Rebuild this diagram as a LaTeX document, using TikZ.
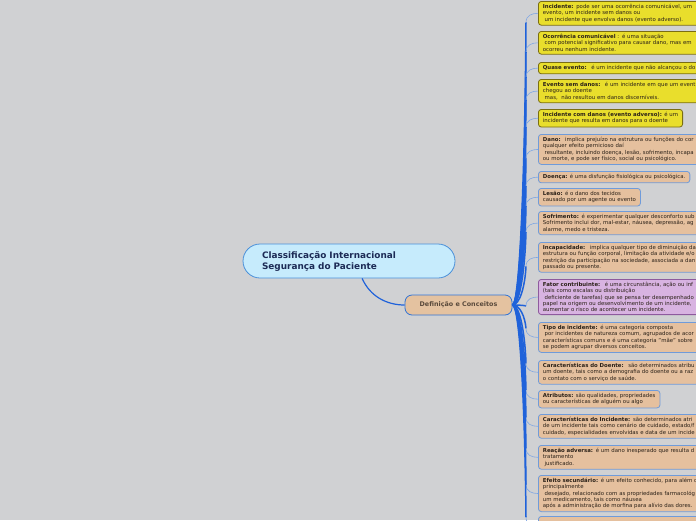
\documentclass[tikz,border=0pt]{standalone}
\usepackage{fontspec}
\setmainfont{DejaVu Sans}
\usepackage{xcolor}
\definecolor{canvas}{HTML}{D0D1D3}
\definecolor{cipfill}{HTML}{C6EBFC}
\definecolor{cipedge}{HTML}{4A90D9}
\definecolor{ciptext}{HTML}{1C2A55}
\definecolor{deffill}{HTML}{E4C2A0}
\definecolor{defedge}{HTML}{2F73D6}
\definecolor{deftext}{HTML}{5A4A3C}
\definecolor{amarelofill}{HTML}{E9DE2C}
\definecolor{amareloedge}{HTML}{7A6E12}
\definecolor{bejefill}{HTML}{E5C09E}
\definecolor{bejeedge}{HTML}{6F9BDA}
\definecolor{lilasfill}{HTML}{D8B3E1}
\definecolor{lilasedge}{HTML}{8E5A9E}
\definecolor{leaftext}{HTML}{2B2118}
\definecolor{trunkblue}{HTML}{1F62DA}
\definecolor{twigblue}{HTML}{7FA6E3}
\usepackage{tikz}
\usetikzlibrary{calc}

\begin{document}
\begin{tikzpicture}[x=1pt, y=-1pt,
  leaf/.style={draw=#1edge, fill=#1fill, rounded corners=3pt, line width=0.8pt,
    anchor=north west, align=left, font=\fontsize{5.4}{6.2}\selectfont,
    text=leaftext, inner xsep=4.5pt, inner ysep=3pt},
  wide/.style={text width=200pt},
  trunk/.style={draw=trunkblue, line width=1.5pt},
  twig/.style={draw=twigblue, line width=0.6pt}
]
  \useasboundingbox (0,0) rectangle (696,520);
  \fill[canvas] (0,0) rectangle (696,520);
  \clip (0,0) rectangle (696,520);

  % centre and main branch
  \node[draw=cipedge, fill=cipfill, rounded corners=17pt, line width=0.8pt,
    minimum height=34pt, text width=174pt, inner xsep=19pt, align=left,
    font=\fontsize{8.9}{11}\selectfont\bfseries, text=ciptext] (cip) at (349,261)
    {Classificação Internacional\\Segurança do Paciente};
  \node[draw=defedge, fill=deffill, rounded corners=7pt, line width=0.8pt,
    minimum width=107pt, minimum height=20pt,
    font=\fontsize{6.4}{7}\selectfont\bfseries, text=deftext] (defc) at (458.5,305)
    {Definição e Conceitos};

  % leaves above
  \node[leaf=amarelo, wide] (incidente) at (538,1)
    {\textbf{Incidente:} pode ser uma ocorrência comunicável, um\\evento, um incidente sem danos ou\\~um incidente que envolva danos (evento adverso).};
  \node[leaf=amarelo, wide] (ocorrencia) at (538,31)
    {\textbf{Ocorrência comunicável} : é uma situação\\~com potencial significativo para causar dano, mas em\\ocorreu nenhum incidente.};
  \node[leaf=amarelo, wide] (quase) at (538,62)
    {\textbf{Quase evento:}~ é um incidente que não alcançou o do};
  \node[leaf=amarelo, wide] (semdanos) at (538,79)
    {\textbf{Evento sem danos:}~ é um incidente em que um event\\chegou ao doente\\~mas,~ não resultou em danos discerníveis.};
  \node[leaf=amarelo] (comdanos) at (538,109)
    {\textbf{Incidente com danos (evento adverso):} é um\\incidente que resulta em danos para o doente};
  \node[leaf=beje, wide] (dano) at (538,134)
    {\textbf{Dano:}~ implica prejuízo na estrutura ou funções do cor\\qualquer efeito pernicioso daí\\~resultante, incluindo doença, lesão, sofrimento, incapa\\ou morte, e pode ser físico, social ou psicológico.};
  \node[leaf=beje] (doenca) at (538,171)
    {\textbf{Doença:} é uma disfunção fisiológica ou psicológica.};
  \node[leaf=beje] (lesao) at (538,188)
    {\textbf{Lesão:} é o dano dos tecidos\\causado por um agente ou evento};
  \node[leaf=beje, wide] (sofrimento) at (538,211)
    {\textbf{Sofrimento:} é experimentar qualquer desconforto sub\\Sofrimento inclui dor, mal-estar, náusea, depressão, ag\\alarme, medo e tristeza.};
  \node[leaf=beje, wide] (incapacidade) at (538,242)
    {\textbf{Incapacidade:}~ implica qualquer tipo de diminuição da\\estrutura ou função corporal, limitação da atividade e/o\\restrição da participação na sociedade, associada a dan\\passado ou presente.};
  \node[leaf=lilas, wide] (fator) at (538,279)
    {\textbf{Fator contribuinte:}~ é uma circunstância, ação ou inf\\(tais como escalas ou distribuição\\~deficiente de tarefas) que se pensa ter desempenhado\\papel na origem ou desenvolvimento de um incidente,\\aumentar o risco de acontecer um incidente.};

  % leaves below
  \node[leaf=beje, wide] (tipo) at (538,322)
    {\textbf{Tipo de incidente:} é uma categoria composta\\~por incidentes de natureza comum, agrupados de acor\\características comuns e é uma categoria "mãe" sobre\\se podem agrupar diversos conceitos.};
  \node[leaf=beje, wide] (cardoente) at (538,360)
    {\textbf{Características do Doente:}~ são determinados atribu\\um doente, tais como a demografia do doente ou a raz\\o contato com o serviço de saúde.};
  \node[leaf=beje] (atributos) at (538,390)
    {\textbf{Atributos:} são qualidades, propriedades\\ou características de alguém ou algo};
  \node[leaf=beje, wide] (carincidente) at (538,414)
    {\textbf{Características do Incidente:} são determinados atri\\de um incidente tais como cenário de cuidado, estado/f\\cuidado, especialidades envolvidas e data de um incide};
  \node[leaf=beje, wide] (reacao) at (538,445)
    {\textbf{Reação adversa:} é um dano inesperado que resulta d\\tratamento\\~justificado.};
  \node[leaf=beje, wide] (efeito) at (538,475)
    {\textbf{Efeito secundário:} é um efeito conhecido, para além d\\principalmente\\~desejado, relacionado com as propriedades farmacológ\\um medicamento, tais como náusea\\após a administração de morfina para alívio das dores.};
  \node[leaf=beje, wide, minimum height=20pt] (proximo) at (538,516) {};

  % connectors
  \draw[trunk, line width=1.2pt] (cip.-53) .. controls +(8,18) and +(-18,0) .. (defc.west);
  \foreach \leaf in {incidente, ocorrencia, quase, semdanos, comdanos, dano, doenca,
      lesao, sofrimento, incapacidade, fator} {
    \coordinate (t-\leaf) at ($(\leaf.west)+(-12,9)$);
    \draw[trunk] let \p1=(defc.east), \p2=(t-\leaf) in
      (\p1) .. controls (\x2-6pt,\y1) and (\x2-1pt,{0.5*(\y1+\y2)}) .. (\p2);
    \draw[twig] (t-\leaf) .. controls +(0,-7) and +(-6,0) .. (\leaf.west);
  }
  \foreach \leaf in {tipo, cardoente, atributos, carincidente, reacao, efeito, proximo} {
    \coordinate (t-\leaf) at ($(\leaf.west)+(-12,-9)$);
    \draw[trunk] let \p1=(defc.east), \p2=(t-\leaf) in
      (\p1) .. controls (\x2-6pt,\y1) and (\x2-1pt,{0.5*(\y1+\y2)}) .. (\p2);
    \draw[twig] (t-\leaf) .. controls +(0,7) and +(-6,0) .. (\leaf.west);
  }
\end{tikzpicture}
\end{document}
